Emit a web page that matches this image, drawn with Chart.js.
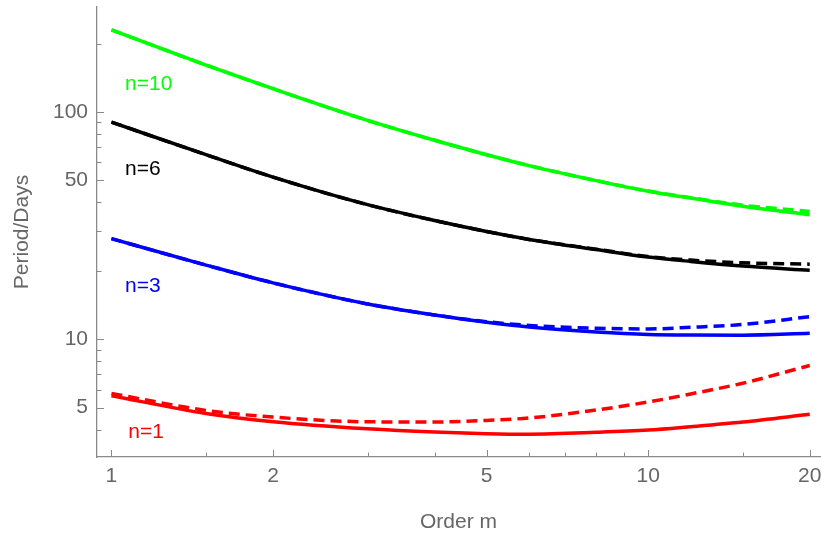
<!DOCTYPE html>
<html>
<head>
<meta charset="utf-8">
<script src="https://cdn.jsdelivr.net/npm/chart.js@4/dist/chart.umd.min.js"></script>
<style>
  html, body { margin: 0; padding: 0; background: #fff; }
  #wrap { width: 821px; height: 536px; }
</style>
</head>
<body>
<div id="wrap"><canvas id="periodChart"></canvas></div>
<script>
// order m (x) and period in days (y)
const orderM = [1, 1.5, 2, 3, 4, 5, 6, 8, 10, 12, 15, 20];

const n10Solid  = [230, 161, 126.7, 91.9, 75.1, 64.9, 58.1, 49.9, 44.8, 41.8, 38.5, 35.3];
const n10Dashed = [230, 161, 126.7, 91.9, 75.1, 64.9, 58.1, 49.9, 44.9, 42.0, 38.9, 36.5];
const n6Solid   = [90.3, 64.9, 51.7, 39.1, 33.3, 29.8, 27.5, 24.8, 23.0, 22.0, 21.0, 20.1];
const n6Dashed  = [90.3, 64.9, 51.7, 39.1, 33.3, 29.8, 27.5, 24.9, 23.1, 22.3, 21.7, 21.4];
const n3Solid   = [27.7, 21.2, 17.7, 14.3, 12.78, 11.87, 11.31, 10.76, 10.49, 10.43, 10.42, 10.63];
const n3Dashed  = [27.7, 21.2, 17.7, 14.3, 12.78, 11.94, 11.5, 11.18, 11.1, 11.28, 11.61, 12.56];
const n1Solid   = [5.64, 4.71, 4.33, 4.03, 3.90, 3.84, 3.82, 3.89, 3.98, 4.12, 4.32, 4.67];
const n1Dashed  = [5.77, 4.86, 4.54, 4.33, 4.32, 4.39, 4.50, 4.88, 5.29, 5.74, 6.40, 7.66];

const xMajorTicks = [1, 2, 5, 10, 20];
const xMinorTicks = [1.5, 3, 4, 6, 7, 8, 9, 15];
const yMajorTicks = [5, 10, 50, 100];
const yMinorTicks = [4, 6, 7, 8, 9, 20, 30, 40, 60, 70, 80, 90, 200];

const curveLabels = [
  { text: "n=10", m: 1.06, v: 133, color: "#00ff00" },
  { text: "n=6",  m: 1.06, v: 56.1, color: "#000000" },
  { text: "n=3",  m: 1.06, v: 17.1, color: "#0000ff" },
  { text: "n=1",  m: 1.075, v: 3.88, color: "#ff0000" }
];

const FONT = "'Liberation Sans', Arial, sans-serif";
const AXIS_GREY = "#8a8a8a";
const TEXT_GREY = "#666666";

function toPoints(ys) {
  return orderM.map((m, i) => ({ x: m, y: ys[i] }));
}

function series(label, ys, color, dashed) {
  return {
    label: label,
    data: toPoints(ys),
    borderColor: color,
    backgroundColor: color,
    borderWidth: 3.5,
    borderDash: dashed ? [11, 6] : [],
    pointRadius: 0,
    cubicInterpolationMode: "monotone",
    fill: false
  };
}

function noScalePadding(scale) {
  scale.paddingLeft = 0;
  scale.paddingRight = 0;
  scale.paddingTop = 0;
  scale.paddingBottom = 0;
}

// Mathematica style ticks that point into the plot
const inwardTicks = {
  id: "inwardTicks",
  afterDatasetsDraw(chart) {
    const { ctx, chartArea, scales } = chart;
    ctx.save();
    ctx.strokeStyle = AXIS_GREY;
    ctx.lineWidth = 1;
    const xs = scales.x, ys = scales.y;
    xMajorTicks.concat(xMinorTicks).forEach(v => {
      const len = xMajorTicks.includes(v) ? 7 : 4.5;
      const px = Math.round(xs.getPixelForValue(v)) + 0.5;
      ctx.beginPath();
      ctx.moveTo(px, chartArea.bottom);
      ctx.lineTo(px, chartArea.bottom - len);
      ctx.stroke();
    });
    yMajorTicks.concat(yMinorTicks).forEach(v => {
      const len = yMajorTicks.includes(v) ? 7 : 4.5;
      const py = Math.round(ys.getPixelForValue(v)) + 0.5;
      ctx.beginPath();
      ctx.moveTo(chartArea.left, py);
      ctx.lineTo(chartArea.left + len, py);
      ctx.stroke();
    });
    ctx.restore();
  }
};

const curveText = {
  id: "curveText",
  afterDatasetsDraw(chart) {
    const { ctx, scales } = chart;
    ctx.save();
    ctx.font = "21px " + FONT;
    ctx.textAlign = "left";
    ctx.textBaseline = "middle";
    curveLabels.forEach(l => {
      ctx.fillStyle = l.color;
      ctx.fillText(l.text, scales.x.getPixelForValue(l.m), scales.y.getPixelForValue(l.v));
    });
    ctx.restore();
  }
};

const ctx = document.getElementById("periodChart").getContext("2d");

new Chart(ctx, {
  type: "line",
  data: {
    datasets: [
      series("n=10 dashed", n10Dashed, "#00ff00", true),
      series("n=6 dashed", n6Dashed, "#000000", true),
      series("n=3 dashed", n3Dashed, "#0000ff", true),
      series("n=1 dashed", n1Dashed, "#ff0000", true),
      series("n=10", n10Solid, "#00ff00", false),
      series("n=6", n6Solid, "#000000", false),
      series("n=3", n3Solid, "#0000ff", false),
      series("n=1", n1Solid, "#ff0000", false)
    ]
  },
  options: {
    responsive: true,
    maintainAspectRatio: false,
    animation: false,
    layout: { autoPadding: false, padding: { top: 7, right: 1, left: 0, bottom: 0 } },
    plugins: {
      legend: { display: false },
      tooltip: { enabled: false }
    },
    scales: {
      x: {
        type: "logarithmic",
        min: 0.94,
        max: 20.9,
        grid: { display: false, drawTicks: false },
        border: { display: true, color: AXIS_GREY, width: 1.3 },
        afterBuildTicks: scale => { scale.ticks = xMajorTicks.map(v => ({ value: v })); },
        afterFit: scale => { scale.height = 79; noScalePadding(scale); },
        ticks: {
          autoSkip: false,
          maxRotation: 0,
          padding: 7,
          color: TEXT_GREY,
          font: { family: FONT, size: 21 },
          callback: v => String(v)
        },
        title: {
          display: true,
          text: "Order m",
          color: TEXT_GREY,
          font: { family: FONT, size: 21 },
          padding: { top: 0, bottom: 1 }
        }
      },
      y: {
        type: "logarithmic",
        min: 3.03,
        max: 290,
        grid: { display: false, drawTicks: false },
        border: { display: true, color: AXIS_GREY, width: 1.3 },
        afterBuildTicks: scale => { scale.ticks = yMajorTicks.map(v => ({ value: v })); },
        afterFit: scale => { scale.width = 97; noScalePadding(scale); },
        ticks: {
          autoSkip: false,
          padding: 9,
          color: TEXT_GREY,
          font: { family: FONT, size: 21 },
          callback: v => String(v)
        },
        title: {
          display: true,
          text: "Period/Days",
          color: TEXT_GREY,
          font: { family: FONT, size: 21 },
          padding: { top: 10, bottom: 0 }
        }
      }
    }
  },
  plugins: [inwardTicks, curveText]
});
</script>
</body>
</html>
